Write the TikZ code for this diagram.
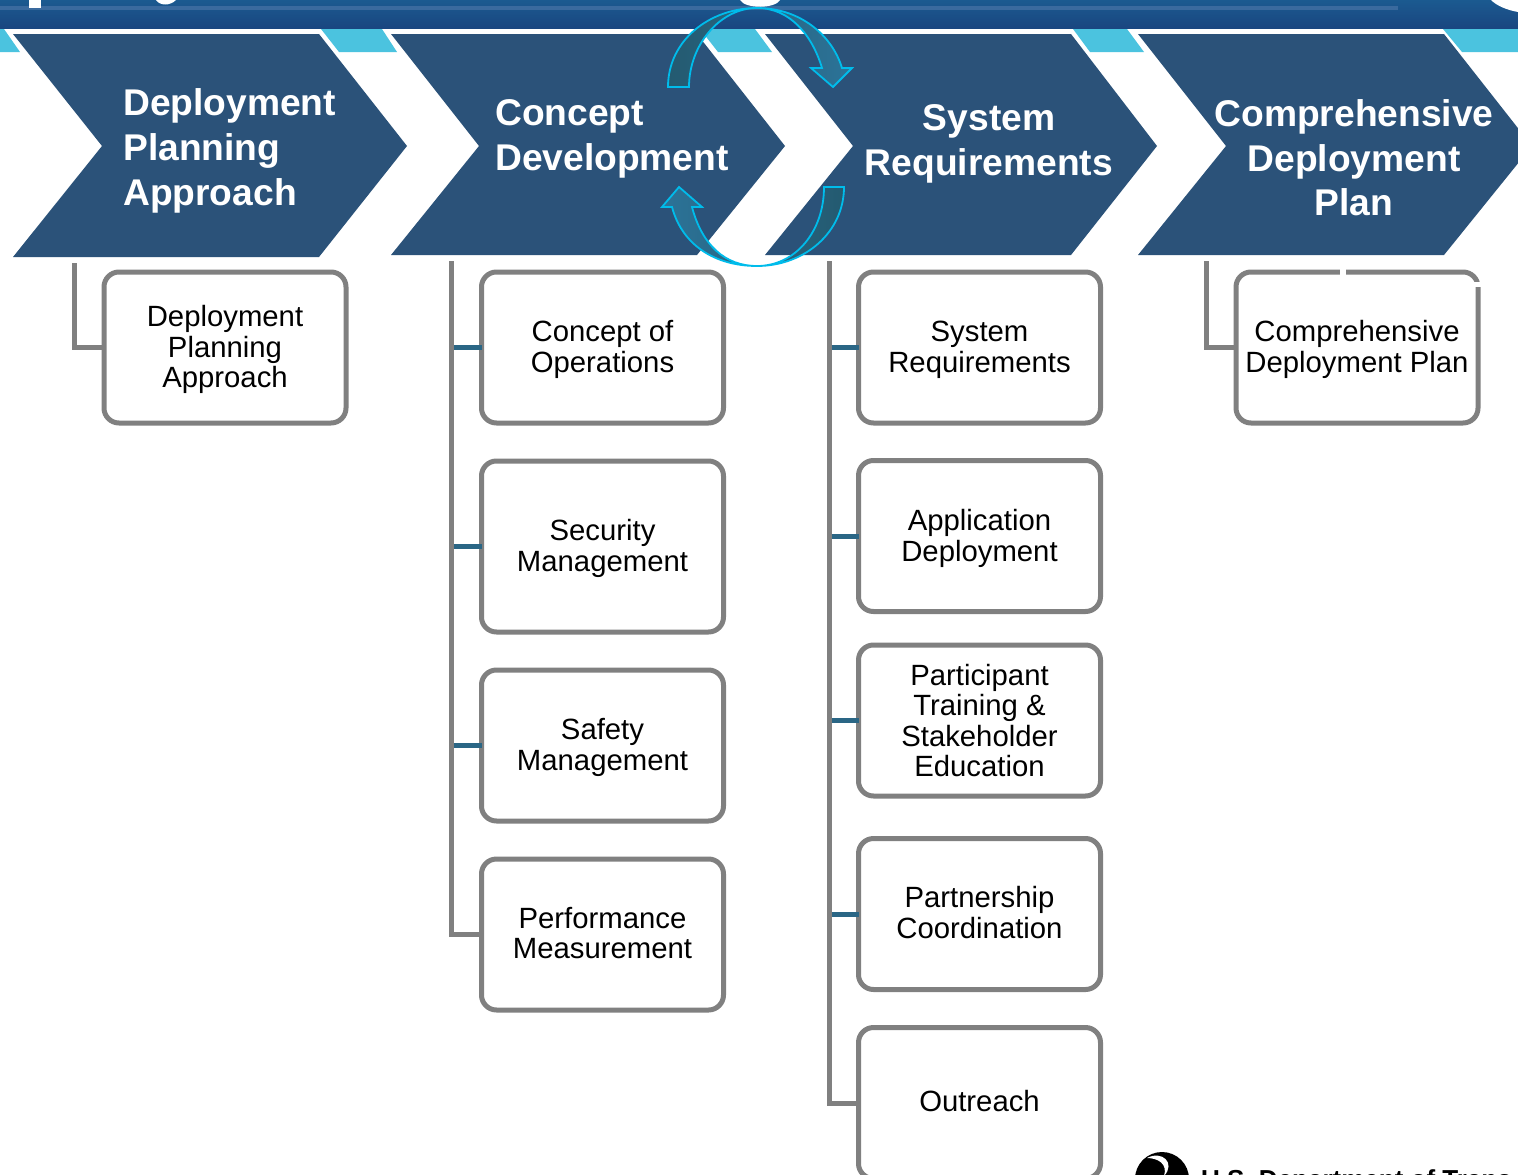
\documentclass[tikz,border=0pt]{standalone}
\usepackage{xcolor}
\usepackage{fontspec}
\setmainfont{Liberation Sans}
\usepackage{tikz}
\definecolor{chevronblue}{HTML}{2B5279}
\definecolor{stripblue}{HTML}{4BC3DF}
\definecolor{boxgray}{HTML}{808080}
\definecolor{stubblue}{HTML}{2A6685}
\definecolor{ringcyan}{HTML}{00BCEB}
\definecolor{ringdark}{HTML}{245A70}
\definecolor{ringlight}{HTML}{2C7398}
\definecolor{bandtop}{HTML}{1B5A90}
\definecolor{bandlow}{HTML}{1A4680}
\definecolor{bandline}{HTML}{3A6A9E}
\newcommand{\lowertext}{\rule{0pt}{25.5pt}}

\begin{document}
\begin{tikzpicture}[x=1pt, y=-1pt]
    % Define styles
    \tikzstyle{chevron} = [fill=chevronblue]
    \tikzstyle{strip} = [fill=stripblue]
    \tikzstyle{heading} = [text=white, font=\bfseries\fontsize{37.2}{44.7}\selectfont, inner sep=0pt]
    \tikzstyle{substep} = [rectangle, draw=boxgray, fill=white, line width=5pt, rounded corners=15pt, minimum width=242pt, minimum height=151pt, inner sep=0pt, outer sep=0pt, align=center, font=\fontsize{29.3}{30.6}\selectfont]
    \tikzstyle{raised} = [execute at end node={\rule[-3.5pt]{0pt}{3.5pt}}]
    \tikzstyle{trunk} = [draw=boxgray, line width=5pt]
    \tikzstyle{stub} = [draw=stubblue, line width=5pt]
    \tikzstyle{ringarrow} = [draw=ringcyan, line width=1.8pt, line join=miter]

    \path [use as bounding box, clip] (0,0) rectangle (1518,1175);
    \fill [white] (0,0) rectangle (1518,1175);

    % Banner along the top edge
    \shade [top color=bandtop, bottom color=bandlow] (0,0) rectangle (1518,28);
    \fill [bandline] (0,6) rectangle (1398,9.5);
    \fill [white] (0,29) rectangle (1518,33);
    \fill [white] (29,0) rectangle (41,8);
    \fill [white] (156,0) .. controls (160,6) and (170,6) .. (176,0) -- cycle;
    \fill [white] (740,0) .. controls (745,9) and (775,9) .. (780,0) -- cycle;
    \fill [white] (1491,0) .. controls (1497,6) and (1507,10) .. (1518,12) -- (1518,0) -- cycle;

    % Light strips behind the chevrons
    \fill [strip] (0,29) -- (4,29) -- (20,52) -- (0,52) -- cycle;
    \fill [strip] (321,29) -- (382,29) -- (397,52) -- (339,52) -- cycle;
    \fill [strip] (700,29) -- (755,29) -- (772,52) -- (718,52) -- cycle;
    \fill [strip] (1073,29) -- (1127,29) -- (1144,52) -- (1090,52) -- cycle;
    \fill [strip] (1443,29) -- (1518,29) -- (1518,52) -- (1462,52) -- cycle;

    % Chevrons
    \fill [chevron] (13,34) -- (319,34) -- (407,146) -- (319,257) -- (13,257) -- (102,146) -- cycle;
    \fill [chevron] (391,34) -- (697,34) -- (785,146) -- (697,255) -- (391,255) -- (479,146) -- cycle;
    \fill [chevron] (765,34) -- (1071,34) -- (1157,146) -- (1071,255) -- (765,255) -- (853,146) -- cycle;
    \fill [chevron] (1138,34) -- (1444,34) -- (1532,146) -- (1444,255) -- (1138,255) -- (1226,146) -- cycle;

    \node [heading, align=left, anchor=west] (plan_head) at (123,151) {Deployment\\Planning\\Approach};
    \node [heading, align=left, anchor=west] (concept_head) at (495,139) {Concept\\Development};
    \node [heading, align=center] (system_head) at (989,144) {System\\Requirements};
    \node [heading, align=center] (full_head) at (1354,158) {Comprehensive\\Deployment\\Plan};

    % Boxes under each chevron
    \node [substep] (plan_box) at (225,347.5) {\lowertext Deployment\\Planning\\Approach};

    \node [substep] (conops) at (602.5,347.5) {\lowertext Concept of\\Operations};
    \node [substep, minimum height=171pt] (security) at (602.5,546.5) {\lowertext Security\\Management};
    \node [substep] (safety) at (602.5,745.5) {\lowertext Safety\\Management};
    \node [substep, raised] (performance) at (602.5,934.5) {Performance\\Measurement};

    \node [substep] (sysreq) at (979.5,347.5) {\lowertext System\\Requirements};
    \node [substep] (application) at (979.5,536) {\lowertext Application\\Deployment};
    \node [substep] (training) at (979.5,720.5) {Participant\\Training \&\\Stakeholder\\Education};
    \node [substep, raised] (partnership) at (979.5,914) {Partnership\\Coordination};
    \node [substep, raised] (outreach) at (979.5,1103) {Outreach};

    \node [substep] (full_box) at (1357,347.5) {\lowertext Comprehensive\\Deployment Plan};
    \fill [white] (1340,268) rectangle (1346,275);
    \fill [white] (1473,282) rectangle (1482,287);

    % Trunk lines, with stubs into the boxes
    \coordinate (plan_top) at (74,263);
    \coordinate (concept_top) at (451,261);
    \coordinate (system_top) at (829,261);
    \coordinate (full_top) at (1206,261);

    \draw [trunk] (plan_top) |- (plan_box.west);
    \draw [trunk] (concept_top) |- (performance.west);
    \draw [trunk] (system_top) |- (outreach.west);
    \draw [trunk] (full_top) |- (full_box.west);

    \draw [stub] (concept_top |- conops.west) ++(2.5,0) -- (conops.west);
    \draw [stub] (concept_top |- security.west) ++(2.5,0) -- (security.west);
    \draw [stub] (concept_top |- safety.west) ++(2.5,0) -- (safety.west);
    \draw [stub] (system_top |- sysreq.west) ++(2.5,0) -- (sysreq.west);
    \draw [stub] (system_top |- application.west) ++(2.5,0) -- (application.west);
    \draw [stub] (system_top |- training.west) ++(2.5,0) -- (training.west);
    \draw [stub] (system_top |- partnership.west) ++(2.5,0) -- (partnership.west);

    % Curved arrows going round the gap
    \draw [ringarrow, left color=ringdark, right color=ringlight] (668,87) .. controls (668,40) and (710,8) .. (757,8) .. controls (800,8) and (832,35) .. (842,68) -- (852,68) -- (833,87) -- (811,68) -- (822,68) .. controls (812,35) and (790,8) .. (757,8) .. controls (720,8) and (689,45) .. (689,87) -- cycle;
    \draw [ringarrow, left color=ringlight, right color=ringdark] (844,187) .. controls (844,232) and (805,266) .. (757,266) .. controls (715,266) and (682,245) .. (672,207) -- (662,207) -- (679,187) -- (702,207) -- (692,207) .. controls (702,245) and (725,266) .. (757,266) .. controls (795,266) and (824,232) .. (824,187) -- cycle;

    % Logo and department line, cut by the lower edge
    \fill [black] (1162,1179) circle (27);
    \fill [white] (1147,1158) .. controls (1162,1150) and (1176,1163) .. (1164,1176) .. controls (1168,1164) and (1158,1158) .. cycle;
    \node [anchor=base west, inner sep=0pt, font=\bfseries\fontsize{26}{30}\selectfont] (dept) at (1201,1188) {U.S. Department of Trans};
\end{tikzpicture}
\end{document}
